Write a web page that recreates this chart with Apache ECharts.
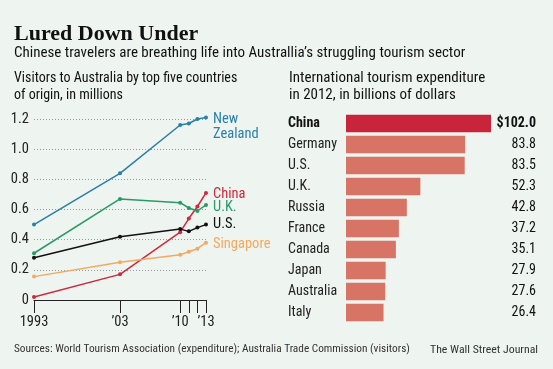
<!DOCTYPE html>
<html><head><meta charset="utf-8">
<script src="https://cdn.jsdelivr.net/npm/echarts@6/dist/echarts.min.js"></script>
<style>html,body{margin:0;padding:0;background:#eef4f0;} #c{width:553px;height:369px;}</style>
</head><body><div id="c"></div>
<script>
const years = [1993, 2003, 2010, 2011, 2012, 2013];
const newZealand = [0.50, 0.84, 1.16, 1.17, 1.20, 1.21];
const china = [0.02, 0.17, 0.45, 0.54, 0.62, 0.71];
const uk = [0.31, 0.67, 0.645, 0.61, 0.59, 0.63];
const us = [0.28, 0.42, 0.47, 0.455, 0.48, 0.50];
const singapore = [0.155, 0.25, 0.30, 0.32, 0.34, 0.38];
const yearLabels = [1993, 2003, 2010, 2013];
const yearTicks = [1993, 2003, 2010, 2011, 2012, 2013];

const countries = ['China', 'Germany', 'U.S.', 'U.K.', 'Russia', 'France', 'Canada', 'Japan', 'Australia', 'Italy'];
const spending = [102.0, 83.8, 83.5, 52.3, 42.8, 37.2, 35.1, 27.9, 27.6, 26.4];

const NARROW = "'Roboto Condensed','DejaVu Sans Condensed',sans-serif";
const BG = '#eef4f0';

function lineSeries(name, vals, color, label, offset) {
  return {
    type: 'line', name: name, xAxisIndex: 0, yAxisIndex: 0,
    data: years.map((y, i) => [y, vals[i]]),
    symbol: 'circle', symbolSize: 4, showSymbol: true, clip: false,
    lineStyle: { color: color, width: 1.5 }, itemStyle: { color: color },
    endLabel: { show: true, formatter: label, color: color, fontFamily: NARROW, fontSize: 14.5, lineHeight: 15, distance: 7, offset: offset },
    animation: false, silent: true
  };
}

const chart = echarts.init(document.getElementById('c'), null, { renderer: 'canvas' });
chart.setOption({
  backgroundColor: BG,
  animation: false,
  graphic: [
    { type: 'text', left: 14, top: 23, style: { text: 'Lured Down Under', font: "bold 22px 'Liberation Serif', serif", fill: '#111' } },
    { type: 'text', left: 14, top: 46, style: { text: 'Chinese travelers are breathing life into Australlia\u2019s struggling tourism sector', font: "15px " + NARROW, fill: '#111' } },
    { type: 'text', left: 14, top: 70, style: { text: 'Visitors to Australia by top five countries\nof origin, in millions', font: "14px " + NARROW, fill: '#111', lineHeight: 17 } },
    { type: 'text', left: 289, top: 70, style: { text: 'International tourism expenditure\nin 2012, in billions of dollars', font: "15px " + NARROW, fill: '#111', lineHeight: 17 } },
    { type: 'text', left: 14, top: 344, style: { text: 'Sources: World Tourism Association (expenditure); Australia Trade Commission (visitors)', font: "11.3px " + NARROW, fill: '#333' } },
    { type: 'text', right: 15, top: 344, style: { text: 'The Wall Street Journal', font: "11.8px " + NARROW, fill: '#333' } }
  ],
  grid: [
    { left: 34, top: 119, width: 172, height: 181 },
    { left: 346, top: 113, width: 145, height: 210 }
  ],
  xAxis: [
    {
      gridIndex: 0, type: 'value', min: 1993, max: 2013,
      axisLine: { show: true, lineStyle: { color: '#222', width: 1 } },
      axisTick: { show: true, customValues: yearTicks, length: 13, lineStyle: { color: '#222' } },
      axisLabel: { customValues: yearLabels, margin: 15, fontFamily: NARROW, fontSize: 14.5, color: '#222',
        formatter: v => v === 1993 ? '1993' : '\u2019' + String(v).slice(2) },
      splitLine: { show: false }
    },
    { gridIndex: 1, type: 'value', min: 0, max: 102, show: false }
  ],
  yAxis: [
    {
      gridIndex: 0, type: 'value', min: 0, max: 1.2, interval: 0.2,
      axisLine: { show: false }, axisTick: { show: false },
      axisLabel: { margin: 5, fontFamily: NARROW, fontSize: 14.5, color: '#222', formatter: v => v === 0 ? '0' : v.toFixed(1) },
      splitLine: { show: true, lineStyle: { color: '#9a9a9a', type: [1, 2], width: 1 } }
    },
    {
      gridIndex: 1, type: 'category', data: countries, inverse: true,
      axisLine: { show: false }, axisTick: { show: false },
      axisLabel: { align: 'left', margin: 58, fontFamily: NARROW, fontSize: 14, color: '#222',
        formatter: (v, i) => i === 0 ? '{b|' + v + '}' : v,
        rich: { b: { fontFamily: NARROW, fontSize: 14, fontWeight: 'bold', color: '#111' } } }
    },
    {
      gridIndex: 1, type: 'category', position: 'right', data: countries, inverse: true,
      axisLine: { show: false }, axisTick: { show: false },
      axisLabel: { align: 'right', margin: 45, fontFamily: NARROW, fontSize: 14, color: '#111',
        formatter: (v, i) => i === 0 ? '{b|$' + spending[i].toFixed(1) + '}' : spending[i].toFixed(1),
        rich: { b: { fontFamily: NARROW, fontSize: 14, fontWeight: 'bold', color: '#111' } } }
    }
  ],
  series: [
    lineSeries('New Zealand', newZealand, '#2a7fa8', 'New\nZealand', [0, 9]),
    lineSeries('China', china, '#d0283c', 'China', [0, 1]),
    lineSeries('U.K.', uk, '#2a9a68', 'U.K.', [0, 2]),
    lineSeries('U.S.', us, '#111111', 'U.S.', [0, 0]),
    lineSeries('Singapore', singapore, '#f4a95e', 'Singapore', [0, 2]),
    {
      type: 'bar', xAxisIndex: 1, yAxisIndex: 1, barWidth: 17.5, silent: true,
      data: spending.map((v, i) => ({ value: v, itemStyle: { color: i === 0 ? '#c8243a' : '#d87466' } }))
    }
  ]
});
</script></body></html>
